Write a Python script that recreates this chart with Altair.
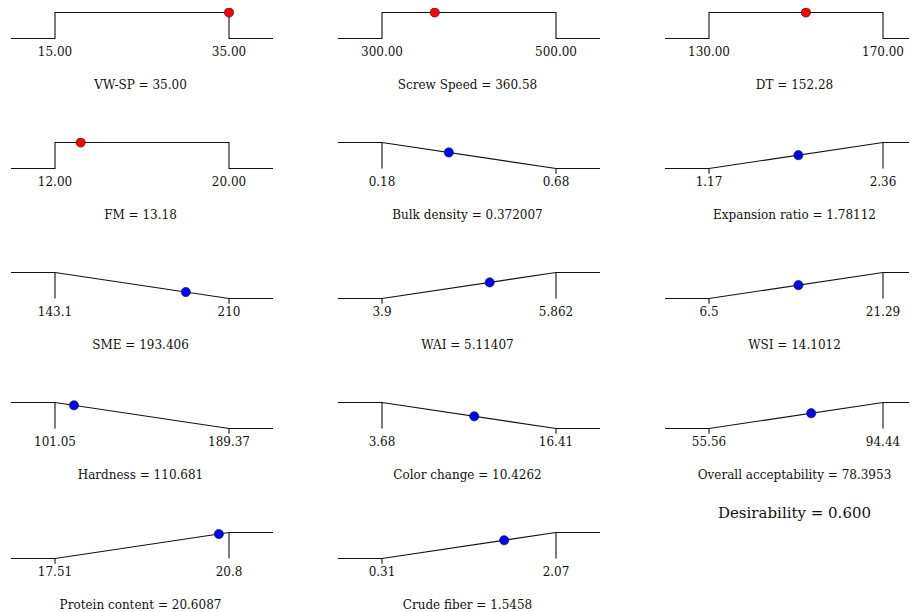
import altair as alt
import pandas as pd

# ---- data ----
names = ["VW-SP", "Screw Speed", "DT", "FM", "Bulk density", "Expansion ratio",
         "SME", "WAI", "WSI", "Hardness", "Color change", "Overall acceptability",
         "Protein content", "Crude fiber"]
lows = [15.00, 300.00, 130.00, 12.00, 0.18, 1.17, 143.1, 3.9, 6.5, 101.05, 3.68, 55.56, 17.51, 0.31]
highs = [35.00, 500.00, 170.00, 20.00, 0.68, 2.36, 210.0, 5.862, 21.29, 189.37, 16.41, 94.44, 20.8, 2.07]
low_labels = ["15.00", "300.00", "130.00", "12.00", "0.18", "1.17", "143.1", "3.9", "6.5",
              "101.05", "3.68", "55.56", "17.51", "0.31"]
high_labels = ["35.00", "500.00", "170.00", "20.00", "0.68", "2.36", "210", "5.862", "21.29",
               "189.37", "16.41", "94.44", "20.8", "2.07"]
values = [35.00, 360.58, 152.28, 13.18, 0.372007, 1.78112, 193.406, 5.11407, 14.1012,
          110.681, 10.4262, 78.3953, 20.6087, 1.5458]
value_labels = ["35.00", "360.58", "152.28", "13.18", "0.372007", "1.78112", "193.406",
                "5.11407", "14.1012", "110.681", "10.4262", "78.3953", "20.6087", "1.5458"]
goals = ["range", "range", "range", "range", "min", "max", "min", "max", "max",
         "min", "min", "max", "max", "max"]
desirability_label = "Desirability = 0.600"

# ---- layout constants ----
PX_SPAN = 174.0      # pixels between low and high limit
LEFT = 47.0          # pixels from panel left to low limit
TAIL = 44.0          # length of flat tails
PX_UNIT = 26.0       # pixels per desirability unit
TOP_GAP = 4.5        # pixels above desirability 1
ROW_H = 130
COL_W = [327, 327, 247]
LAST_ROW_H = 76
FONT = "DejaVu Serif"


def desir(i):
    if goals[i] == "range":
        return 1.0
    frac = (values[i] - lows[i]) / (highs[i] - lows[i])
    return frac if goals[i] == "max" else 1.0 - frac


def panel(i, W, H, note=None, clip_pts=False):
    lo, hi = lows[i], highs[i]
    u = (hi - lo) / PX_SPAN
    xl, xr = lo - TAIL * u, hi + TAIL * u
    g = goals[i]
    if g == "range":
        pts = [(xl, 0), (lo, 0), (lo, 1), (hi, 1), (hi, 0), (xr, 0)]
        rules = []
        ticks = []
    elif g == "max":
        pts = [(xl, 0), (lo, 0), (hi, 1), (xr, 1)]
        rules = [(hi, 1, 0)]
        ticks = [(lo, 0, -0.2)]
    else:
        pts = [(xl, 1), (lo, 1), (hi, 0), (xr, 0)]
        rules = [(lo, 1, 0)]
        ticks = [(hi, 0, -0.2)]

    ytop = 1 + TOP_GAP / PX_UNIT
    xs = alt.Scale(domain=[lo - LEFT * u, lo + (W - LEFT) * u], nice=False, zero=False)
    ys = alt.Scale(domain=[ytop - H / PX_UNIT, ytop], nice=False, zero=False)
    X = lambda f: alt.X(f, type="quantitative", scale=xs, axis=None)
    Y = lambda f: alt.Y(f, type="quantitative", scale=ys, axis=None)

    line_df = pd.DataFrame({"x": [p[0] for p in pts], "y": [p[1] for p in pts],
                            "o": list(range(len(pts)))})
    layers = [
        alt.Chart(line_df).mark_line(color="#111111", strokeWidth=1.1, clip=True).encode(
            x=X("x"), y=Y("y"), order="o:Q")
    ]
    rl = rules + ticks
    if rl:
        rdf = pd.DataFrame({"x": [r[0] for r in rl], "y": [r[1] for r in rl],
                            "y2": [r[2] for r in rl]})
        layers.append(alt.Chart(rdf).mark_rule(color="#111111", strokeWidth=1.1).encode(
            x=X("x"), y=Y("y"), y2="y2:Q"))

    lab_df = pd.DataFrame({"x": [lo, hi], "y": [-0.5, -0.5],
                           "t": [low_labels[i], high_labels[i]]})
    layers.append(alt.Chart(lab_df).mark_text(font=FONT, fontSize=12, color="#111111",
                                              baseline="middle", align="center").encode(
        x=X("x"), y=Y("y"), text="t:N"))

    mid = (lo + hi) / 2 - 1.5 * u
    title_rows = [(mid, -1.77, f"{names[i]} = {value_labels[i]}", 12)]
    if note:
        title_rows.append((mid, 1 - 110.5 / PX_UNIT, note, 15))
    for (tx, ty, tt, fs) in title_rows:
        tdf = pd.DataFrame({"x": [tx], "y": [ty], "t": [tt]})
        layers.append(alt.Chart(tdf).mark_text(font=FONT, fontSize=fs, color="#111111",
                                               baseline="middle", align="center").encode(
            x=X("x"), y=Y("y"), text="t:N"))

    pdf = pd.DataFrame({"x": [values[i]], "y": [desir(i)]})
    fill = "#ff0000" if g == "range" else "#0000ff"
    layers.append(alt.Chart(pdf).mark_circle(size=85, color=fill, opacity=1, clip=clip_pts,
                                             stroke="#222222", strokeWidth=0.7).encode(
        x=X("x"), y=Y("y")))

    return alt.layer(*layers).properties(width=W, height=H)


rows = []
for r in range(5):
    H = ROW_H if r < 4 else LAST_ROW_H
    cells = []
    for c in range(3):
        i = r * 3 + c
        if i >= len(names):
            continue
        note = desirability_label if i == 11 else None
        cells.append(panel(i, COL_W[c], H, note, clip_pts=(r <= 1)))
    rows.append(alt.hconcat(*cells, spacing=0))

chart = alt.vconcat(*rows, spacing=0).properties(padding=0).configure_view(
    stroke=None).configure_concat(spacing=0)

chart.save("out.html", embed_options={"renderer": "svg", "actions": False})
